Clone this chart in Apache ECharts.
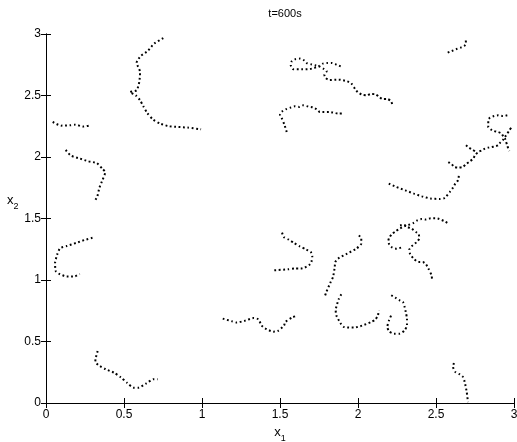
<!DOCTYPE html>
<html>
<head>
<meta charset="utf-8">
<script src="https://cdn.jsdelivr.net/npm/echarts@6/dist/echarts.min.js"></script>
<style>
  html, body { margin: 0; padding: 0; background: #fff; }
  #chart { width: 517px; height: 442px; }
</style>
</head>
<body>
<div id="chart"></div>
<script>
// particle trajectories, [x1, x2]
const trackA = [[0.752,2.967],[0.694,2.922],[0.652,2.862],[0.607,2.821],[0.581,2.767],[0.603,2.691],[0.598,2.610],[0.581,2.542],[0.538,2.528],[0.577,2.499],[0.603,2.461],[0.624,2.412],[0.649,2.358],[0.684,2.307],[0.731,2.272],[0.787,2.250],[0.848,2.244],[0.908,2.239],[0.994,2.225]]
const trackB = [[0.043,2.285],[0.096,2.255],[0.154,2.258],[0.186,2.263],[0.239,2.247],[0.276,2.255]]
const trackC = [[0.126,2.057],[0.160,2.011],[0.213,1.989],[0.271,1.965],[0.325,1.951],[0.363,1.902],[0.380,1.876],[0.363,1.816],[0.342,1.748],[0.329,1.680],[0.308,1.632]]
const trackD = [[0.298,1.343],[0.246,1.325],[0.192,1.301],[0.133,1.276],[0.090,1.258],[0.072,1.207],[0.058,1.138],[0.062,1.073],[0.081,1.052],[0.133,1.028],[0.186,1.030],[0.216,1.049]]
const trackE = [[0.331,0.423],[0.319,0.366],[0.316,0.337],[0.335,0.309],[0.383,0.274],[0.436,0.247],[0.479,0.209],[0.521,0.163],[0.560,0.125],[0.592,0.125],[0.641,0.158],[0.688,0.193],[0.716,0.193]]
const trackF = [[1.133,0.686],[1.192,0.664],[1.222,0.654],[1.278,0.670],[1.331,0.691],[1.361,0.680],[1.383,0.629],[1.404,0.607],[1.457,0.580],[1.485,0.585],[1.526,0.629],[1.532,0.656],[1.579,0.697],[1.604,0.707]]
const trackG = [[1.513,1.385],[1.524,1.350],[1.556,1.328],[1.590,1.301],[1.626,1.274],[1.669,1.247],[1.697,1.228],[1.707,1.193],[1.701,1.146],[1.686,1.120],[1.658,1.101],[1.633,1.093],[1.594,1.093],[1.551,1.087],[1.462,1.079]]
const trackH = [[2.006,1.363],[2.021,1.337],[2.021,1.296],[1.989,1.255],[1.931,1.215],[1.872,1.174],[1.854,1.146],[1.851,1.106],[1.840,1.024],[1.825,0.984],[1.797,0.902],[1.786,0.862]]
const trackI = [[1.893,0.884],[1.876,0.843],[1.857,0.754],[1.861,0.713],[1.889,0.646],[1.910,0.618],[1.974,0.613],[2.026,0.629],[2.085,0.659],[2.111,0.678],[2.128,0.713],[2.133,0.754]]
const trackJ = [[2.213,0.876],[2.239,0.857],[2.267,0.835],[2.288,0.821],[2.299,0.780],[2.306,0.740],[2.314,0.686],[2.314,0.632],[2.299,0.591],[2.267,0.564],[2.231,0.564],[2.199,0.583],[2.188,0.618],[2.199,0.672],[2.213,0.713]]
const trackK = [[2.615,0.325],[2.609,0.293],[2.624,0.252],[2.652,0.233],[2.673,0.211],[2.684,0.171],[2.697,0.089],[2.705,0.008]]
const trackL1 = [[2.276,1.263],[2.248,1.255],[2.220,1.263],[2.201,1.288],[2.194,1.315],[2.199,1.341],[2.216,1.372],[2.244,1.398],[2.269,1.418],[2.297,1.437],[2.322,1.447],[2.354,1.463],[2.380,1.485],[2.408,1.496],[2.436,1.491],[2.466,1.502],[2.496,1.502],[2.521,1.496],[2.551,1.480],[2.575,1.463]]
const trackL2 = [[2.269,1.445],[2.297,1.447],[2.316,1.431],[2.344,1.418],[2.372,1.390],[2.389,1.372],[2.393,1.341],[2.383,1.317],[2.365,1.296],[2.344,1.274],[2.329,1.247],[2.333,1.215],[2.344,1.193],[2.361,1.168],[2.387,1.146],[2.415,1.146],[2.436,1.128],[2.451,1.093],[2.472,1.038],[2.474,1.011]]
const trackM = [[1.889,2.737],[1.863,2.751],[1.833,2.764],[1.803,2.764],[1.774,2.759],[1.746,2.735],[1.692,2.715],[1.639,2.713],[1.585,2.713],[1.569,2.746],[1.575,2.778],[1.596,2.794],[1.628,2.800],[1.654,2.786],[1.671,2.764],[1.699,2.754],[1.724,2.746],[1.752,2.737],[1.778,2.719],[1.799,2.697],[1.784,2.670],[1.793,2.642],[1.816,2.626],[1.876,2.629],[1.931,2.615],[1.957,2.599],[1.983,2.550],[1.998,2.528],[2.024,2.507],[2.056,2.502],[2.081,2.512],[2.111,2.510],[2.135,2.491],[2.156,2.472],[2.188,2.472],[2.212,2.453],[2.222,2.420]]
const trackN = [[1.543,2.203],[1.528,2.263],[1.511,2.317],[1.500,2.345],[1.515,2.372],[1.538,2.388],[1.569,2.402],[1.596,2.412],[1.624,2.407],[1.649,2.420],[1.681,2.410],[1.710,2.404],[1.735,2.388],[1.756,2.366],[1.816,2.366],[1.876,2.353],[1.906,2.355]]
const trackO = [[2.575,2.849],[2.601,2.862],[2.628,2.876],[2.658,2.889],[2.681,2.902],[2.692,2.927],[2.690,2.963]]
const trackP1 = [[2.197,1.784],[2.246,1.756],[2.303,1.729],[2.359,1.702],[2.410,1.680],[2.466,1.662],[2.524,1.659],[2.551,1.664],[2.566,1.680],[2.588,1.715],[2.609,1.751],[2.624,1.784],[2.641,1.811],[2.647,1.852]]
const trackP2 = [[2.579,1.959],[2.601,1.941],[2.617,1.919],[2.643,1.914],[2.671,1.919],[2.697,1.946],[2.718,1.965],[2.739,1.987],[2.750,2.014],[2.771,2.041],[2.793,2.054],[2.814,2.068],[2.835,2.076],[2.857,2.081],[2.878,2.087],[2.899,2.095],[2.910,2.114],[2.928,2.136],[2.942,2.163],[2.957,2.190],[2.970,2.217],[2.985,2.244]]
const trackQ = [[2.692,2.095],[2.712,2.075],[2.734,2.059],[2.756,2.042]]
const trackR = [[2.957,2.339],[2.928,2.333],[2.899,2.339],[2.872,2.333],[2.846,2.320],[2.835,2.298],[2.835,2.272],[2.835,2.244],[2.851,2.225],[2.872,2.211],[2.899,2.203],[2.921,2.190],[2.931,2.168],[2.942,2.150],[2.949,2.122],[2.957,2.095],[2.963,2.068],[2.970,2.049]]

const tracks = [trackA, trackB, trackC, trackD, trackE, trackF, trackG, trackH, trackI, trackJ, trackK,
  trackL1, trackL2, trackM, trackN, trackO, trackP1, trackP2, trackQ, trackR]

const chart = echarts.init(document.getElementById('chart'), null, { renderer: 'canvas' })

const font = 'Liberation Sans'
const tickInside = { inside: true, length: 5, lineStyle: { color: '#000', width: 1 } }
const subRich = {
  v: { fontFamily: font, fontSize: 13, color: '#000' },
  s: { fontFamily: font, fontSize: 9, color: '#000', padding: [12, 0, 0, 0] }
}

// MATLAB style box: ticks inward on all four sides
const option = {
  animation: false,
  backgroundColor: '#fff',
  title: {
    text: 't=600s',
    left: 280,
    textAlign: 'center',
    top: 3,
    textStyle: { fontFamily: font, fontSize: 11, fontWeight: 'normal', color: '#000' }
  },
  grid: { left: 46, right: 3, top: 34, bottom: 39, outerBoundsMode: 'none', containLabel: false },
  xAxis: [
    {
      type: 'value', min: 0, max: 3, interval: 0.5, position: 'bottom',
      name: '{v|x}{s|1}', nameLocation: 'middle', nameGap: 12,
      nameTextStyle: { fontFamily: font, color: '#000', rich: subRich },
      axisLine: { show: true, lineStyle: { color: '#000', width: 1 } },
      axisTick: tickInside,
      axisLabel: { fontFamily: font, fontSize: 12, color: '#000', margin: 6 },
      splitLine: { show: false }
    },
    {
      type: 'value', min: 0, max: 3, interval: 0.5, position: 'top',
      axisLine: { show: true, lineStyle: { color: '#000', width: 1 } },
      axisTick: tickInside,
      axisLabel: { show: false },
      splitLine: { show: false }
    }
  ],
  yAxis: [
    {
      type: 'value', min: 0, max: 3, interval: 0.5, position: 'left',
      name: '{v|x}{s|2}', nameLocation: 'middle', nameGap: 22, nameRotate: 0,
      nameTextStyle: { fontFamily: font, color: '#000', padding: [0, 0, 36, 0], rich: subRich },
      axisLine: { show: true, lineStyle: { color: '#000', width: 1 } },
      axisTick: tickInside,
      axisLabel: { fontFamily: font, fontSize: 12, color: '#000', margin: 5 },
      splitLine: { show: false }
    },
    {
      type: 'value', min: 0, max: 3, interval: 0.5, position: 'right',
      axisLine: { show: true, lineStyle: { color: '#000', width: 1 } },
      axisTick: tickInside,
      axisLabel: { show: false },
      splitLine: { show: false }
    }
  ],
  series: tracks.map(t => ({
    type: 'line',
    data: t,
    showSymbol: false,
    silent: true,
    clip: true,
    smooth: 0.2,
    lineStyle: { color: '#000', width: 2, type: [1.8, 2.6], cap: 'butt' }
  }))
}

chart.setOption(option)
</script>
</body>
</html>
